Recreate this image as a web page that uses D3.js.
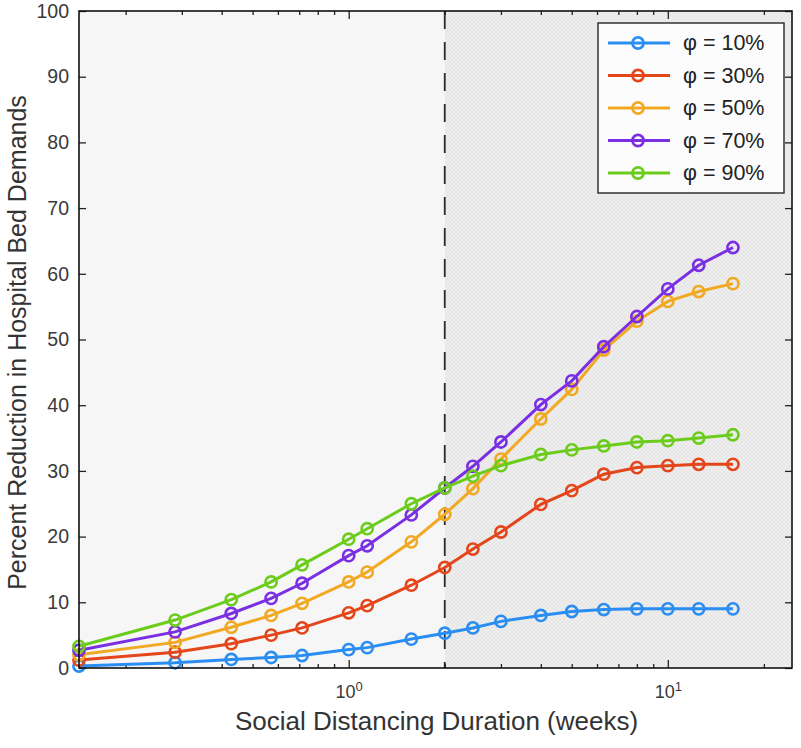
<!DOCTYPE html>
<html><head><meta charset="utf-8">
<script src="https://cdn.jsdelivr.net/npm/d3@7"></script>
<style>body{margin:0;background:#fff}</style>
</head><body><svg id="c" width="801" height="748"></svg>
<script>
// ---- data ----
const weeks = [1/7, 2/7, 3/7, 4/7, 5/7, 1, 8/7, 11/7, 2, 2.45, 3, 4, 5, 6.3, 8, 10, 12.5, 16];
const seriesNames = ["φ = 10%", "φ = 30%", "φ = 50%", "φ = 70%", "φ = 90%"];
const seriesColors = ["#2a8df2", "#e4461b", "#f1a923", "#7b2fe3", "#6bcc1c"];
const phi10 = [0.3, 0.8, 1.3, 1.6, 1.9, 2.8, 3.1, 4.4, 5.3, 6.1, 7.1, 8.0, 8.6, 8.9, 9.0, 9.0, 9.0, 9.0];
const phi30 = [1.2, 2.4, 3.7, 5.0, 6.1, 8.4, 9.5, 12.6, 15.3, 18.1, 20.7, 24.9, 27.0, 29.5, 30.5, 30.8, 31.0, 31.0];
const phi50 = [2.0, 3.9, 6.2, 8.0, 9.85, 13.1, 14.6, 19.2, 23.4, 27.3, 31.8, 37.9, 42.4, 48.4, 52.8, 55.8, 57.3, 58.5];
const phi70 = [2.7, 5.5, 8.3, 10.6, 12.9, 17.1, 18.6, 23.3, 27.4, 30.7, 34.4, 40.1, 43.7, 48.9, 53.5, 57.7, 61.3, 64.0];
const phi90 = [3.3, 7.3, 10.4, 13.1, 15.7, 19.6, 21.2, 25.0, 27.4, 29.2, 30.8, 32.5, 33.2, 33.8, 34.4, 34.6, 35.0, 35.5];
const seriesValues = [phi10, phi30, phi50, phi70, phi90];
const yTicks = [0, 10, 20, 30, 40, 50, 60, 70, 80, 90, 100];
const xMajorTicks = [1, 10];
const xMajorLabels = [["10", "0"], ["10", "1"]];
const xMinorTicks = [0.2, 0.3, 0.4, 0.5, 0.6, 0.7, 0.8, 0.9, 2, 3, 4, 5, 6, 7, 8, 9, 20];
const xDomain = [1/7, 24.5];
const yDomain = [0, 100];
const dividerWeeks = 2;
const xTitle = "Social Distancing Duration (weeks)";
const yTitle = "Percent Reduction in Hospital Bed Demands";

// ---- layout ----
const L = 79, R = 792, T = 11, B = 668;
const font = "'Liberation Sans', Arial, Helvetica, sans-serif";
const svg = d3.select("#c");
const x = d3.scaleLog().domain(xDomain).range([L, R]);
const y = d3.scaleLinear().domain(yDomain).range([B, T]);

const defs = svg.append("defs");
const pat = defs.append("pattern").attr("id", "hatch").attr("patternUnits", "userSpaceOnUse")
  .attr("width", 4).attr("height", 4);
pat.append("rect").attr("width", 4).attr("height", 4).attr("fill", "#eeeeee");
pat.append("path").attr("d", "M0,4 L4,0 M0,0 L4,4").attr("stroke", "#e3e3e3").attr("stroke-width", 0.8);

// backgrounds
svg.append("rect").attr("x", L).attr("y", T).attr("width", x(dividerWeeks) - L).attr("height", B - T)
  .attr("fill", "#f6f6f6");
svg.append("rect").attr("x", x(dividerWeeks)).attr("y", T).attr("width", R - x(dividerWeeks)).attr("height", B - T)
  .attr("fill", "url(#hatch)");

// divider
svg.append("line").attr("x1", x(dividerWeeks)).attr("x2", x(dividerWeeks)).attr("y1", T).attr("y2", B)
  .attr("stroke", "#2a2a2a").attr("stroke-width", 1.8).attr("stroke-dasharray", "18,13");

// axes
function styleAxis(g) {
  g.select(".domain").remove();
  g.selectAll("line").attr("stroke", "#222").attr("stroke-width", 1.3);
  g.selectAll("text").attr("fill", "#3a3a3a").style("font-family", font);
}
svg.append("g").attr("transform", `translate(${L},0)`)
  .call(d3.axisLeft(y).tickValues(yTicks).tickSize(-7).tickPadding(10).tickFormat(d3.format("d")))
  .call(styleAxis).selectAll("text").style("font-size", "19.5px");
svg.append("g").attr("transform", `translate(${R},0)`)
  .call(d3.axisRight(y).tickValues(yTicks).tickSize(-7).tickFormat(""))
  .call(styleAxis);
const xb = svg.append("g").attr("transform", `translate(0,${B})`)
  .call(d3.axisBottom(x).tickValues(xMajorTicks).tickSize(-8).tickPadding(17).tickFormat(""))
  .call(styleAxis);
xb.selectAll(".tick text").each(function(d, i) {
  const t = d3.select(this).style("font-size", "18px");
  t.append("tspan").text(xMajorLabels[i][0]);
  t.append("tspan").attr("dy", "-7").style("font-size", "13px").text(xMajorLabels[i][1]);
});
svg.append("g").attr("transform", `translate(0,${B})`)
  .call(d3.axisBottom(x).tickValues(xMinorTicks).tickSize(-4).tickFormat(""))
  .call(styleAxis);
svg.append("g").attr("transform", `translate(0,${T})`)
  .call(d3.axisTop(x).tickValues(xMajorTicks).tickSize(-8).tickFormat(""))
  .call(styleAxis);
svg.append("g").attr("transform", `translate(0,${T})`)
  .call(d3.axisTop(x).tickValues(xMinorTicks).tickSize(-4).tickFormat(""))
  .call(styleAxis);

// series
const line = d3.line().x((d, i) => x(weeks[i])).y(d => y(d));
seriesValues.forEach((vals, s) => {
  const g = svg.append("g");
  g.append("path").datum(vals).attr("d", line).attr("fill", "none")
    .attr("stroke", seriesColors[s]).attr("stroke-width", 3);
  g.selectAll("circle").data(vals).join("circle")
    .attr("cx", (d, i) => x(weeks[i])).attr("cy", d => y(d)).attr("r", 5.6)
    .attr("fill", "none").attr("stroke", seriesColors[s]).attr("stroke-width", 2.6);
});

// frame
svg.append("rect").attr("x", L).attr("y", T).attr("width", R - L).attr("height", B - T)
  .attr("fill", "none").attr("stroke", "#111").attr("stroke-width", 1.6);

// legend
const lg = svg.append("g");
lg.append("rect").attr("x", 598).attr("y", 23).attr("width", 186).attr("height", 170)
  .attr("fill", "#fcfcfc").attr("stroke", "#333").attr("stroke-width", 1.5);
seriesNames.forEach((name, s) => {
  const yy = 43 + s * 32.5;
  lg.append("line").attr("x1", 608).attr("x2", 670).attr("y1", yy).attr("y2", yy)
    .attr("stroke", seriesColors[s]).attr("stroke-width", 3);
  lg.append("circle").attr("cx", 638).attr("cy", yy).attr("r", 5.6).attr("fill", "none")
    .attr("stroke", seriesColors[s]).attr("stroke-width", 2.6);
  lg.append("text").attr("x", 683).attr("y", yy + 7).text(name)
    .style("font-family", font).style("font-size", "21.5px").attr("fill", "#222");
});

// titles
svg.append("text").attr("x", (L + R) / 2 + 1).attr("y", 730).attr("text-anchor", "middle")
  .style("font-family", font).style("font-size", "26px").attr("fill", "#333").text(xTitle);
svg.append("text").attr("transform", `translate(26,${(T + B) / 2 + 3}) rotate(-90)`).attr("text-anchor", "middle")
  .style("font-family", font).style("font-size", "25px").attr("fill", "#333").text(yTitle);
</script></body></html>
